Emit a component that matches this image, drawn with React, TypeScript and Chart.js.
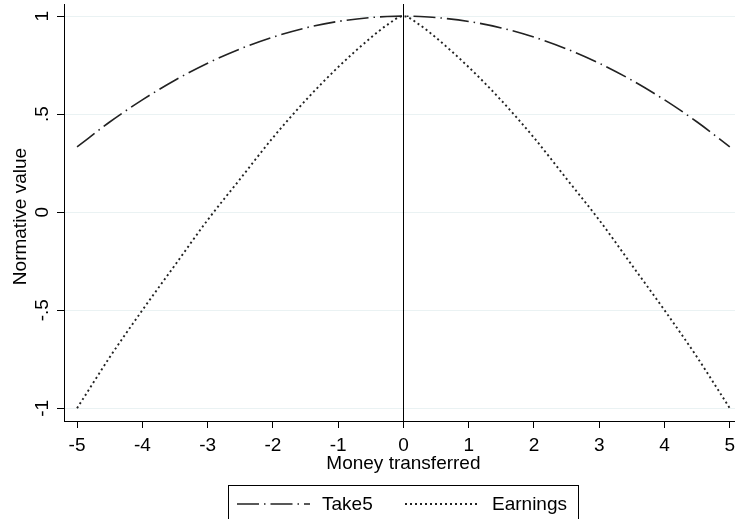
import React, { useEffect, useRef } from "react";
import { Chart, registerables } from "chart.js";

Chart.register(...registerables);

const xValues = [-5, -4.5, -4, -3.5, -3, -2.5, -2, -1.5, -1, -0.5, -0.25, 0, 0.25, 0.5, 1, 1.5, 2, 2.5, 3, 3.5, 4, 4.5, 5];
const take5 = [0.333, 0.46, 0.573, 0.673, 0.76, 0.833, 0.893, 0.94, 0.973, 0.993, 0.998, 1, 0.998, 0.993, 0.973, 0.94, 0.893, 0.833, 0.76, 0.673, 0.573, 0.46, 0.333];
const earnings = [-1, -0.74, -0.5, -0.27, -0.04, 0.17, 0.38, 0.57, 0.74, 0.89, 0.955, 1, 0.955, 0.89, 0.74, 0.57, 0.38, 0.17, -0.04, -0.27, -0.5, -0.74, -1];
const xTicks = [-5, -4, -3, -2, -1, 0, 1, 2, 3, 4, 5];
const yTicks = [-1, -0.5, 0, 0.5, 1];
const yTickLabels = ["-1", "-.5", "0", ".5", "1"];
const xTitle = "Money transferred";
const yTitle = "Normative value";
const seriesNames = ["Take5", "Earnings"];

const FONT = '"Liberation Sans", Arial, sans-serif';
const FS = 19;
const LINE = "#222";
const DASH_TAKE5 = [22, 5, 1.5, 5];
const DASH_EARN = [2, 3];

const overlay = {
  id: "stataOverlay",
  afterDatasetsDraw(chart: any) {
    const ctx = chart.ctx;
    const xs = chart.scales.x;
    const ys = chart.scales.y;
    const area = chart.chartArea;
    ctx.save();
    // vertical line at x = 0
    const x0 = Math.round(xs.getPixelForValue(0)) + 0.5;
    ctx.strokeStyle = "#000";
    ctx.lineWidth = 1;
    ctx.setLineDash([]);
    ctx.beginPath();
    ctx.moveTo(x0, area.top);
    ctx.lineTo(x0, area.bottom);
    ctx.stroke();

    // y tick labels rotated
    ctx.fillStyle = "#000";
    ctx.font = `${FS}px ${FONT}`;
    ctx.textAlign = "center";
    ctx.textBaseline = "middle";
    yTicks.forEach((v, i) => {
      const py = ys.getPixelForValue(v);
      ctx.save();
      ctx.translate(43, py);
      ctx.rotate(-Math.PI / 2);
      ctx.fillText(yTickLabels[i], 0, 0);
      ctx.restore();
    });
    // y title
    ctx.save();
    ctx.translate(21, 216.5);
    ctx.rotate(-Math.PI / 2);
    ctx.fillText(yTitle, 0, 0);
    ctx.restore();

    // x title
    ctx.fillText(xTitle, xs.getPixelForValue(0), 464);

    // legend
    ctx.strokeStyle = "#000";
    ctx.lineWidth = 1;
    ctx.strokeRect(228.5, 485.5, 350, 50);
    const ly = 504;
    const items = [
      { x1: 237, x2: 310, tx: 322, dash: DASH_TAKE5, w: 1.6, label: chart.data.datasets[0].label },
      { x1: 405, x2: 477, tx: 492, dash: DASH_EARN, w: 1.9, label: chart.data.datasets[1].label },
    ];
    items.forEach((it) => {
      ctx.strokeStyle = LINE;
      ctx.lineWidth = it.w;
      ctx.setLineDash(it.dash);
      ctx.beginPath();
      ctx.moveTo(it.x1, ly);
      ctx.lineTo(it.x2, ly);
      ctx.stroke();
      ctx.setLineDash([]);
      ctx.textAlign = "left";
      ctx.fillStyle = "#000";
      ctx.fillText(it.label, it.tx, ly + 1);
    });
    ctx.restore();
  },
};

export default function App() {
  const ref = useRef<HTMLCanvasElement>(null);
  useEffect(() => {
    if (!ref.current) return;
    const chart = new Chart(ref.current, {
      type: "line",
      data: {
        datasets: [
          {
            label: seriesNames[0],
            data: xValues.map((x, i) => ({ x, y: take5[i] })),
            borderColor: LINE,
            borderWidth: 1.6,
            borderDash: DASH_TAKE5,
            pointRadius: 0,
            cubicInterpolationMode: "monotone",
            fill: false,
          },
          {
            label: seriesNames[1],
            data: xValues.map((x, i) => ({ x, y: earnings[i] })),
            borderColor: LINE,
            borderWidth: 1.9,
            borderDash: DASH_EARN,
            pointRadius: 0,
            cubicInterpolationMode: "monotone",
            fill: false,
          },
        ],
      },
      options: {
        responsive: false,
        animation: false,
        devicePixelRatio: 1,
        layout: { padding: { top: 4, left: 0, right: 0, bottom: 0 } },
        plugins: { legend: { display: false }, tooltip: { enabled: false } },
        scales: {
          x: {
            type: "linear",
            min: -5.2,
            max: 5.08,
            afterBuildTicks: (s: any) => {
              s.ticks = xTicks.map((v) => ({ value: v }));
            },
            afterFit: (s: any) => {
              s.height = 98;
              s.paddingLeft = 0;
              s.paddingRight = 0;
            },
            grid: { display: true, drawOnChartArea: false, drawTicks: true, tickLength: 7, tickColor: "#000" },
            border: { display: true, color: "#000", width: 1 },
            ticks: {
              color: "#000",
              font: { family: FONT, size: FS },
              padding: 6,
              maxRotation: 0,
              autoSkip: false,
              callback: (v: any) => String(v),
            },
          },
          y: {
            type: "linear",
            min: -1.065,
            max: 1.062,
            afterBuildTicks: (s: any) => {
              s.ticks = yTicks.map((v) => ({ value: v }));
            },
            afterFit: (s: any) => {
              s.width = 64;
              s.paddingTop = 0;
              s.paddingBottom = 0;
            },
            grid: { color: "#EAF2F3", lineWidth: 1, drawTicks: true, tickLength: 7, tickColor: "#000" },
            border: { display: true, color: "#000", width: 1 },
            ticks: { display: false },
          },
        },
      },
      plugins: [overlay],
    } as any);
    return () => chart.destroy();
  }, []);
  return (
    <div style={{ position: "fixed", left: 0, top: 0, width: 735, height: 519, background: "#fff" }}>
      <canvas ref={ref} width={735} height={519} style={{ width: 735, height: 519 }} />
    </div>
  );
}
